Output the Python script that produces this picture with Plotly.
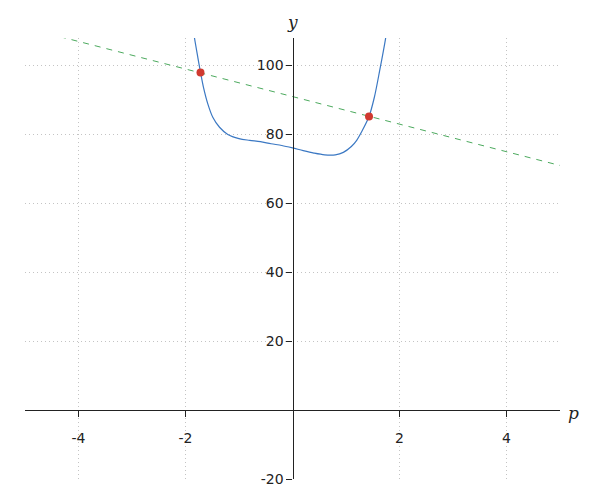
import plotly.graph_objects as go

# curve
curve_p = [-1.86, -1.832, -1.770, -1.720, -1.664, -1.583, -1.490, -1.364, -1.209, -1.0,
           -0.80, -0.60, -0.40, -0.20, 0.0, 0.20, 0.40, 0.60, 0.80, 0.95,
           1.10, 1.20, 1.30, 1.43, 1.53, 1.63, 1.738, 1.76]
curve_y = [111.0, 108.0, 102.4, 98.1, 93.7, 88.9, 85.0, 82.1, 80.0, 78.8,
           78.3, 77.9, 77.3, 76.8, 76.1, 75.3, 74.6, 74.1, 74.1, 74.8,
           76.5, 78.3, 81.0, 85.2, 90.8, 98.6, 107.7, 110.0]

# dashed line
line_p = [-5.0, 5.0]
line_y = [111.0, 71.0]

# intersection points
pts_p = [-1.72, 1.43]
pts_y = [98.0, 85.2]

xticks = [-4, -2, 2, 4]
yticks = [-20, 20, 40, 60, 80, 100]

x_range = [-5, 5]
y_range = [-20, 108]

fig = go.Figure()

fig.add_trace(go.Scatter(x=line_p, y=line_y, mode='lines',
                         line=dict(color='#4caa5e', width=1, dash='6px,6px'),
                         showlegend=False, hoverinfo='skip'))
fig.add_trace(go.Scatter(x=curve_p, y=curve_y, mode='lines',
                         line=dict(color='#3b78c3', width=1.2, shape='spline', smoothing=0.9),
                         showlegend=False))
fig.add_trace(go.Scatter(x=pts_p, y=pts_y, mode='markers',
                         marker=dict(color='#d0392f', size=8),
                         showlegend=False))

# put axes through the origin
x_pos = (0 - y_range[0]) / (y_range[1] - y_range[0])
y_pos = (0 - x_range[0]) / (x_range[1] - x_range[0])

axis_style = dict(showgrid=True, gridcolor='#c4c4c4', griddash='1px,3px', gridwidth=1,
                  zeroline=False, showline=True, linecolor='#222', linewidth=1.3,
                  ticks='outside', ticklen=6, tickcolor='#222', anchor='free',
                  tickfont=dict(family='DejaVu Sans', size=14, color='#222'))

fig.update_xaxes(range=x_range, tickvals=xticks, ticktext=[str(t) for t in xticks],
                 position=x_pos, ticklabelstandoff=9, **axis_style)
fig.update_yaxes(range=y_range, tickvals=yticks, ticktext=[str(t) for t in yticks],
                 position=y_pos, **axis_style)

fig.add_annotation(x=0, y=1, xref='x', yref='paper', text='<i>y</i>', showarrow=False,
                   yanchor='bottom', yshift=4,
                   font=dict(family='DejaVu Serif', size=17, color='#222'))
fig.add_annotation(x=1, y=0, xref='paper', yref='y', text='<i>p</i>', showarrow=False,
                   xanchor='left', xshift=6, yshift=-3,
                   font=dict(family='DejaVu Serif', size=17, color='#222'))

fig.update_layout(width=600, height=500, plot_bgcolor='white', paper_bgcolor='white',
                  margin=dict(l=25, r=40, t=38, b=21))

fig.write_html("out.html", config={'displayModeBar': False},
               post_script="document.body.style.margin='0';")
